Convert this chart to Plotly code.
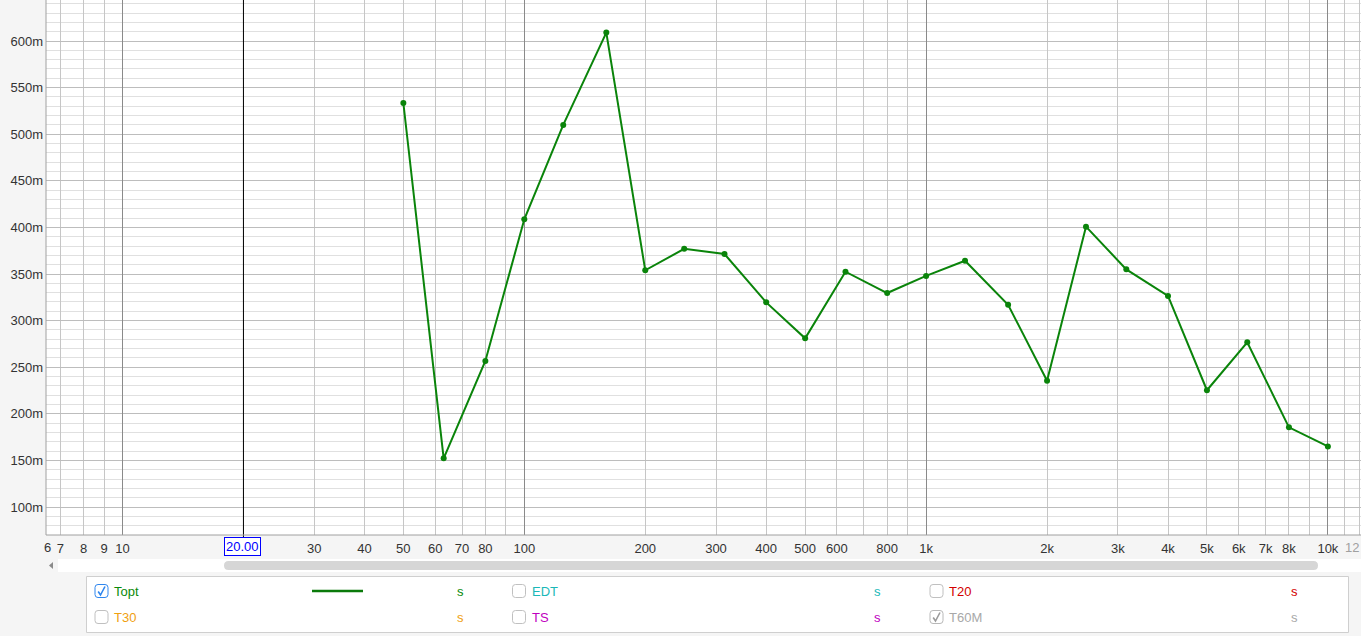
import plotly.graph_objects as go

# ---------------- data ----------------
freqs = [50, 63, 80, 100, 125, 160, 200, 250, 315, 400, 500, 630, 800,
         1000, 1250, 1600, 2000, 2500, 3150, 4000, 5000, 6300, 8000, 10000]
topt_ms = [533.5, 152.3, 256.7, 408.7, 510, 609, 354, 377, 371.5, 319.6, 281,
           352.5, 329.6, 348, 364.3, 317, 235.5, 400.8, 355, 326.5, 225.3,
           276.7, 185.5, 165]
topt = [v / 1000 for v in topt_ms]

x_grid = [7, 8, 9, 20, 30, 40, 50, 60, 70, 80, 90,
          200, 300, 400, 500, 600, 700, 800, 900,
          2000, 3000, 4000, 5000, 6000, 7000, 8000, 9000, 11000, 12000]
x_labels = {7: "7", 8: "8", 9: "9", 10: "10", 30: "30", 40: "40", 50: "50",
            60: "60", 70: "70", 80: "80", 100: "100", 200: "200", 300: "300",
            400: "400", 500: "500", 600: "600", 800: "800", 1000: "1k",
            2000: "2k", 3000: "3k", 4000: "4k", 5000: "5k", 6000: "6k",
            7000: "7k", 8000: "8k", 10000: "10k"}
decades = [10, 100, 1000, 10000]
cursor_freq = 20
y_major = [0.1, 0.15, 0.2, 0.25, 0.3, 0.35, 0.4, 0.45, 0.5, 0.55, 0.6]
y_labels = ["100m", "150m", "200m", "250m", "300m", "350m", "400m", "450m",
            "500m", "550m", "600m"]

legend_items = [
    # name, color, checked, col, row
    ("Topt", "#0a8a0a", True, 0, 0),
    ("EDT", "#1ab8b8", False, 1, 0),
    ("T20", "#d40000", False, 2, 0),
    ("T30", "#f0a010", False, 0, 1),
    ("TS", "#c000c0", False, 1, 1),
    ("T60M", "#a8a8a8", True, 2, 1),
]

# ---------------- layout helpers (pixel -> paper) ----------------
W, H = 1361, 636
L, R, T, B = 46, 0, 0, 101
PW, PH = W - L - R, H - T - B
XRANGE = [0.8096, 4.0824]


def px(x):
    return (x - L) / PW


def py(y):
    return (T + PH - y) / PH


fig = go.Figure()

# decade grid lines drawn as the gridlines of an overlaid axis (under the data)
fig.add_trace(go.Scatter(x=[], y=[], xaxis="x2", showlegend=False, hoverinfo="skip"))

fig.add_trace(go.Scatter(
    x=freqs, y=topt, mode="lines+markers",
    line=dict(color="#0a840a", width=2),
    marker=dict(color="#0a840a", size=6),
    hoverinfo="x+y", showlegend=False, cliponaxis=False))

alltick = sorted(set(x_grid) | set(decades))
ticktext = [x_labels.get(v, "") for v in alltick]

shapes = []
shapes.append(dict(type="line", xref="x", yref="paper", x0=cursor_freq,
                   x1=cursor_freq, y0=py(538), y1=1,
                   line=dict(color="#000000", width=1), layer="above"))
shapes.append(dict(type="line", xref="paper", yref="paper", x0=0, x1=1, y0=0, y1=0,
                   line=dict(color="#a0a0a0", width=1)))
shapes.append(dict(type="line", xref="paper", yref="paper", x0=0, x1=0, y0=0, y1=1,
                   line=dict(color="#a0a0a0", width=1)))


def rrect(x0, y0, x1, y1, r):
    return (f"M {px(x0 + r)},{py(y0)} L {px(x1 - r)},{py(y0)} "
            f"Q {px(x1)},{py(y0)} {px(x1)},{py(y0 + r)} L {px(x1)},{py(y1 - r)} "
            f"Q {px(x1)},{py(y1)} {px(x1 - r)},{py(y1)} L {px(x0 + r)},{py(y1)} "
            f"Q {px(x0)},{py(y1)} {px(x0)},{py(y1 - r)} L {px(x0)},{py(y0 + r)} "
            f"Q {px(x0)},{py(y0)} {px(x0 + r)},{py(y0)} Z")


# scrollbar track and thumb
shapes.append(dict(type="rect", xref="paper", yref="paper", x0=px(58), x1=px(1361),
                   y0=py(572), y1=py(559), fillcolor="#ffffff", line=dict(width=0)))
shapes.append(dict(type="path", xref="paper", yref="paper", path=rrect(224, 561, 1318, 570, 4.5),
                   fillcolor="#d6d6d6", line=dict(width=0)))
shapes.append(dict(type="path", xref="paper", yref="paper",
                   path=f"M {px(49)},{py(565.5)} L {px(53)},{py(562)} L {px(53)},{py(569)} Z",
                   fillcolor="#8a8a8a", line=dict(width=0)))
# legend box
shapes.append(dict(type="rect", xref="paper", yref="paper", x0=px(86.5), x1=px(1348.5),
                   y0=py(632.5), y1=py(576.5), fillcolor="#ffffff",
                   line=dict(color="#cfcfcf", width=1)))

annotations = []
col_cb = [95, 512.5, 930]
col_s = [460, 877, 1294]
row_y = [591, 617]
for name, color, checked, col, row in legend_items:
    cx, cy = col_cb[col], row_y[row]
    bcol = "#2f86ee" if name == "Topt" else "#c0c0c0"
    if name == "T60M":
        bcol = "#b8b8b8"
    shapes.append(dict(type="path", xref="paper", yref="paper",
                       path=rrect(cx, cy - 6.5, cx + 13, cy + 6.5, 3),
                       fillcolor="#ffffff", line=dict(color=bcol, width=1)))
    if checked:
        ck = "#2f86ee" if name == "Topt" else "#9a9a9a"
        shapes.append(dict(type="path", xref="paper", yref="paper",
                           path=(f"M {px(cx + 3.2)},{py(cy + 0.5)} L {px(cx + 5.5)},{py(cy + 4)} "
                                 f"L {px(cx + 10)},{py(cy - 4.5)}"),
                           line=dict(color=ck, width=1.6)))
    annotations.append(dict(xref="paper", yref="paper", x=px(cx + 17), y=py(cy),
                            text=name, showarrow=False, xanchor="left", yanchor="middle",
                            font=dict(color=color, size=13)))
    annotations.append(dict(xref="paper", yref="paper", x=px(col_s[col]), y=py(cy),
                            text="s", showarrow=False, xanchor="center", yanchor="middle",
                            font=dict(color=color, size=13)))
    if name == "Topt":
        shapes.append(dict(type="line", xref="paper", yref="paper", x0=px(312), x1=px(363),
                           y0=py(cy), y1=py(cy), line=dict(color="#0a7a0a", width=2.5)))

# cursor label
annotations.append(dict(xref="paper", yref="paper", x=px(242.5), y=py(546.5),
                        text="20.00", showarrow=False, xanchor="center", yanchor="middle",
                        font=dict(color="#0000ff", size=13), bgcolor="#ffffff",
                        bordercolor="#0000ff", borderwidth=1, borderpad=1))
annotations.append(dict(xref="paper", yref="paper", x=px(47.5), y=py(547),
                        text="6", showarrow=False, xanchor="center", yanchor="middle",
                        font=dict(color="#333333", size=13)))
annotations.append(dict(xref="paper", yref="paper", x=px(1361), y=py(547),
                        text="12", showarrow=False, xanchor="right", yanchor="middle",
                        font=dict(color="#a0a0a0", size=13)))

fig.update_layout(
    width=W, height=H,
    margin=dict(l=L, r=R, t=T, b=B, pad=0),
    paper_bgcolor="#f5f5f5", plot_bgcolor="#ffffff",
    font=dict(family="Liberation Sans, Arial, sans-serif", size=13, color="#333333"),
    showlegend=False,
    xaxis=dict(type="log", range=XRANGE, tickmode="array", tickvals=alltick,
               ticktext=ticktext, showgrid=True, gridcolor="#c6c6c6", gridwidth=1,
               zeroline=False, showline=False, ticks="", tickfont=dict(size=13, color="#333333"),
               ticklabelstandoff=4, fixedrange=True),
    xaxis2=dict(type="log", range=XRANGE, overlaying="x", tickmode="array", tickvals=decades,
                showticklabels=False, showgrid=True, gridcolor="#8a8a8a", gridwidth=1,
                zeroline=False, showline=False, ticks="", fixedrange=True),
    yaxis=dict(range=[0.070, 0.644], tickmode="array", tickvals=y_major, ticktext=y_labels,
               showgrid=True, gridcolor="#bdbdbd", gridwidth=1, zeroline=False,
               showline=False, ticks="", ticklabelstandoff=2,
               minor=dict(dtick=0.01, tick0=0, showgrid=True, gridcolor="#e0e0e0", ticks=""),
               tickfont=dict(size=13, color="#333333"), fixedrange=True),
    shapes=shapes, annotations=annotations,
)

fig.write_html("out.html", config={"displayModeBar": False},
               post_script="document.body.style.margin='0';document.body.style.overflow='hidden';")
